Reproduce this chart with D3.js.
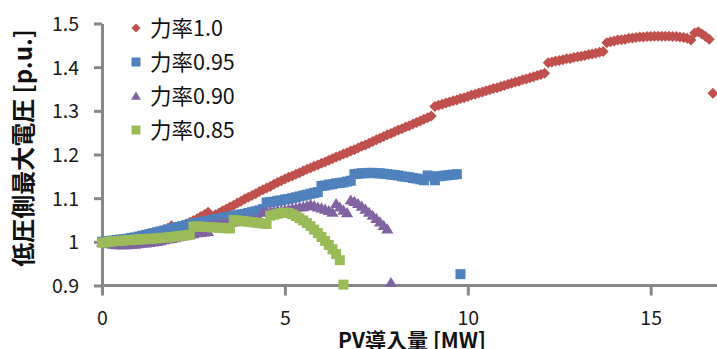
<!DOCTYPE html>
<html><head><meta charset="utf-8">
<script src="https://cdn.jsdelivr.net/npm/d3@7"></script>
<style>
html,body{margin:0;padding:0;background:#fff;}
svg{display:block;}
text{font-family:"Noto Sans CJK JP","Noto Sans",sans-serif;}
</style></head>
<body>
<svg id="chart" width="717" height="349"></svg>
<script>
// PV導入量 [MW] (shared x values)
const pvMW = [0,0.1,0.2,0.3,0.4,0.5,0.6,0.7,0.8,0.9,1.0,1.1,1.2,1.3,1.4,1.5,1.6,1.7,1.8,1.9,
2.0,2.1,2.2,2.3,2.4,2.5,2.6,2.7,2.8,2.9,3.0,3.1,3.2,3.3,3.4,3.5,3.6,3.7,3.8,3.9,
4.0,4.1,4.2,4.3,4.4,4.5,4.6,4.7,4.8,4.9,5.0,5.1,5.2,5.3,5.4,5.5,5.6,5.7,5.8,5.9,
6.0,6.1,6.2,6.3,6.4,6.5,6.6,6.7,6.8,6.9,7.0,7.1,7.2,7.3,7.4,7.5,7.6,7.7,7.8,7.9,
8.0,8.1,8.2,8.3,8.4,8.5,8.6,8.7,8.8,8.9,9.0,9.1,9.2,9.3,9.4,9.5,9.6,9.7,9.8,9.9,
10.0,10.1,10.2,10.3,10.4,10.5,10.6,10.7,10.8,10.9,11.0,11.1,11.2,11.3,11.4,11.5,11.6,11.7,11.8,11.9,
12.0,12.1,12.2,12.3,12.4,12.5,12.6,12.7,12.8,12.9,13.0,13.1,13.2,13.3,13.4,13.5,13.6,13.7,13.8,13.9,
14.0,14.1,14.2,14.3,14.4,14.5,14.6,14.7,14.8,14.9,15.0,15.1,15.2,15.3,15.4,15.5,15.6,15.7,15.8,15.9,
16.0,16.1,16.2,16.3,16.4,16.5,16.6,16.7];

// 力率1.0
const pf100 = [1.000,1.001,1.002,1.003,1.004,1.005,1.006,1.007,1.009,1.010,
1.012,1.014,1.016,1.018,1.020,1.022,1.025,1.028,1.031,1.037,
1.030,1.033,1.037,1.041,1.045,1.049,1.053,1.058,1.062,1.068,
1.058,1.062,1.066,1.071,1.075,1.080,1.084,1.089,1.093,1.098,
1.102,1.106,1.110,1.115,1.119,1.123,1.127,1.132,1.136,1.140,
1.144,1.148,1.151,1.155,1.158,1.162,1.166,1.169,1.173,1.176,
1.180,1.183,1.187,1.190,1.194,1.197,1.201,1.204,1.208,1.211,
1.215,1.219,1.222,1.226,1.230,1.234,1.237,1.241,1.245,1.248,
1.252,1.256,1.259,1.263,1.266,1.270,1.273,1.277,1.281,1.284,
1.288,1.310,1.313,1.315,1.318,1.320,1.323,1.325,1.328,1.330,
1.333,1.336,1.338,1.341,1.343,1.346,1.348,1.351,1.353,1.356,
1.358,1.361,1.363,1.366,1.368,1.371,1.373,1.376,1.378,1.381,
1.383,1.386,1.410,1.412,1.414,1.415,1.417,1.419,1.420,1.422,
1.424,1.425,1.427,1.429,1.430,1.432,1.434,1.436,1.456,1.458,
1.460,1.462,1.463,1.464,1.466,1.467,1.468,1.469,1.469,1.470,
1.470,1.471,1.471,1.471,1.471,1.471,1.470,1.470,1.469,1.468,
1.466,1.462,1.478,1.481,1.476,1.470,1.464,1.340];

// 力率0.95
const pf095 = [1.000,1.001,1.002,1.003,1.004,1.005,1.006,1.007,1.009,1.010,
1.012,1.014,1.016,1.018,1.020,1.022,1.024,1.026,1.028,1.030,
1.032,1.034,1.036,1.038,1.040,1.042,1.043,1.045,1.047,1.048,
1.050,1.052,1.053,1.055,1.056,1.058,1.060,1.061,1.063,1.064,
1.066,1.068,1.070,1.072,1.075,1.090,1.091,1.092,1.094,1.095,
1.097,1.098,1.100,1.102,1.104,1.106,1.108,1.110,1.112,1.114,
1.128,1.129,1.131,1.132,1.134,1.135,1.136,1.138,1.140,1.155,
1.156,1.157,1.157,1.158,1.158,1.157,1.157,1.156,1.155,1.154,
1.153,1.152,1.150,1.149,1.148,1.146,1.145,1.143,1.141,1.152,
1.150,1.141,1.150,1.151,1.152,1.153,1.154,1.155,0.926];

// 力率0.90
const pf090 = [1.000,0.998,0.996,0.995,0.994,0.994,0.994,0.994,0.995,0.995,
0.996,0.997,0.998,0.999,1.000,1.001,1.003,1.005,1.007,1.008,
1.010,1.012,1.014,1.016,1.018,1.019,1.021,1.022,1.023,1.024,
1.040,1.041,1.042,1.043,1.044,1.045,1.046,1.047,1.048,1.049,
1.050,1.051,1.052,1.053,1.068,1.069,1.070,1.071,1.072,1.073,
1.074,1.075,1.077,1.078,1.080,1.081,1.083,1.086,1.083,1.080,
1.078,1.075,1.072,1.068,1.088,1.080,1.073,1.067,1.096,1.093,
1.088,1.082,1.075,1.068,1.061,1.054,1.046,1.038,1.030,0.907];

// 力率0.85
const pf085 = [0.998,0.999,1.000,1.001,1.002,1.002,1.003,1.004,1.004,1.005,
1.005,1.006,1.006,1.007,1.007,1.008,1.009,1.009,1.010,1.011,
1.012,1.013,1.014,1.015,1.016,1.035,1.035,1.035,1.034,1.034,
1.033,1.033,1.032,1.032,1.031,1.031,1.050,1.049,1.048,1.047,
1.046,1.045,1.044,1.043,1.042,1.041,1.060,1.062,1.064,1.066,
1.067,1.066,1.063,1.059,1.054,1.049,1.043,1.036,1.028,1.020,
1.011,1.002,0.993,0.983,0.972,0.958,0.902];

const seriesNames = ["力率1.0","力率0.95","力率0.90","力率0.85"];
const xTicks = [0,5,10,15];
const yTicks = [0.9,1,1.1,1.2,1.3,1.4,1.5];
const yTickLabels = ["0.9","1","1.1","1.2","1.3","1.4","1.5"];
const xTitle = "PV導入量 [MW]";
const yTitle = "低圧側最大電圧 [p.u.]";

// marker shapes (r = half-size in px)
const diamond = r => `M0,${-r}L${r},0L0,${r}L${-r},0Z`;
const square = r => `M${-r},${-r}H${r}V${r}H${-r}Z`;
const triangle = r => `M0,${-r}L${r*1.1},${r*0.85}H${-r*1.1}Z`;

const series = [
  {name: seriesNames[0], values: pf100, color: "#C0504D", shape: diamond, r: 5.5, lr: 4.5},
  {name: seriesNames[1], values: pf095, color: "#4F81BD", shape: square, r: 5, lr: 4.5},
  {name: seriesNames[2], values: pf090, color: "#8064A2", shape: triangle, r: 5.5, lr: 4.5},
  {name: seriesNames[3], values: pf085, color: "#9BBB59", shape: square, r: 5, lr: 4.5}
];

const svg = d3.select("#chart");
const x = d3.scaleLinear().domain([0, 15]).range([102, 650.7]);
const y = d3.scaleLinear().domain([0.9, 1.5]).range([285.5, 23.5]);
const axisColor = "#878787";

// x axis
const xAxis = svg.append("g").attr("transform", `translate(0,${y(0.9)})`)
  .call(d3.axisBottom(x).tickValues(xTicks).tickSize(10).tickSizeOuter(0).tickPadding(17)
  .tickFormat(d3.format("d")));
xAxis.select(".domain").attr("d", `M${x(0)},0H717`);

// y axis
const yAxis = svg.append("g").attr("transform", `translate(${x(0)},0)`)
  .call(d3.axisLeft(y).tickValues(yTicks).tickSize(8).tickSizeOuter(0).tickPadding(15)
  .tickFormat((d,i) => yTickLabels[i]));

[xAxis, yAxis].forEach(g => {
  g.select(".domain").attr("stroke", axisColor).attr("stroke-width", 3).attr("fill","none");
  g.selectAll(".tick line").attr("stroke", axisColor).attr("stroke-width", 3);
  g.selectAll(".tick text").attr("fill", "#1a1a1a")
    .style("font-family", '"Noto Sans CJK JP", sans-serif').style("font-size", "19.5px");
});
yAxis.selectAll(".tick text").attr("dy", "0.36em");
xAxis.selectAll(".tick text").attr("dy", "0.62em");

// points
series.forEach(s => {
  svg.append("g").selectAll("path").data(s.values).join("path")
    .attr("transform", (d, i) => `translate(${x(pvMW[i])},${y(d)})`)
    .attr("d", s.shape(s.r))
    .attr("fill", s.color);
});

// legend
const legend = svg.append("g");
series.forEach((s, i) => {
  const ly = 28 + i * 34;
  legend.append("path").attr("transform", `translate(136,${ly})`)
    .attr("d", s.shape(s.lr))
    .attr("fill", s.color);
  legend.append("text").attr("x", 150).attr("y", ly).attr("dy", "0.36em")
    .style("font-size", "21.5px").attr("fill", "#111").text(s.name);
});

// titles
svg.append("text").attr("x", 412).attr("y", 348).attr("text-anchor", "middle")
  .style("font-size", "21px").style("font-weight", "bold").attr("fill", "#111").text(xTitle);
svg.append("text").attr("transform", "translate(32,148) rotate(-90)").attr("text-anchor", "middle")
  .style("font-size", "24px").style("font-weight", "bold").attr("fill", "#111").text(yTitle);
</script>
</body></html>
